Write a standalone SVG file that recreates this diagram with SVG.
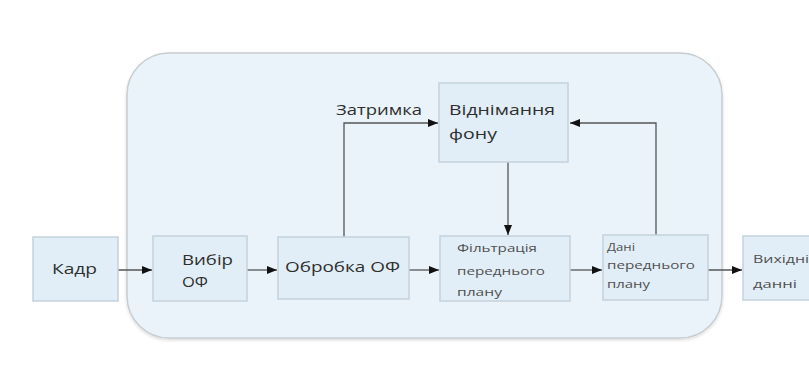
<svg xmlns="http://www.w3.org/2000/svg" width="809" height="374" viewBox="0 0 809 374">
<style>
.box{fill:#e2eef7;stroke:#c4d2dc;stroke-width:1.5}
.t{font-family:"Open Sans","Noto Sans","DejaVu Sans",sans-serif;fill:#2e2e2e}
.big{font-size:15px}
.sm{font-size:11px;fill:#505050}
.ln{fill:none;stroke:#555;stroke-width:1.3}
</style>
<defs>
<marker id="ah" viewBox="0 0 10 8" refX="10" refY="4" markerWidth="10" markerHeight="8" markerUnits="userSpaceOnUse" orient="auto">
<path d="M0,0 L10,4 L0,8 Z" fill="#111"/>
</marker>
<filter id="sh" x="-5%" y="-5%" width="110%" height="115%">
<feDropShadow dx="0" dy="1.5" stdDeviation="1.5" flood-color="#000" flood-opacity="0.15"/>
</filter>
</defs>
<rect width="809" height="374" fill="#fff"/>
<g id="container">
<rect x="127" y="53" width="595" height="285" rx="42" ry="42" fill="#e9f3f9" stroke="#c8cdd1" stroke-width="1.5" filter="url(#sh)"/>
</g>
<g id="connectors">
<line class="ln" x1="118" y1="270" x2="152" y2="270" marker-end="url(#ah)"/>
<line class="ln" x1="247" y1="270" x2="277" y2="270" marker-end="url(#ah)"/>
<line class="ln" x1="409" y1="270" x2="439" y2="270" marker-end="url(#ah)"/>
<line class="ln" x1="570" y1="270" x2="602" y2="270" marker-end="url(#ah)"/>
<line class="ln" x1="708" y1="270" x2="742" y2="270" marker-end="url(#ah)"/>
<polyline class="ln" points="344,237 344,123 438,123" marker-end="url(#ah)"/>
<polyline class="ln" points="656,235 656,123 570,123" marker-end="url(#ah)"/>
<line class="ln" x1="508" y1="162" x2="508" y2="235" marker-end="url(#ah)"/>
<text class="t big" x="336" y="115" textLength="86" lengthAdjust="spacingAndGlyphs">Затримка</text>
</g>
<g id="kadr">
<rect class="box" x="33" y="237" width="85" height="64"/>
<text class="t big" x="52" y="274" textLength="45" lengthAdjust="spacingAndGlyphs">Кадр</text>
</g>
<g id="vybir">
<rect class="box" x="153" y="236" width="94" height="65"/>
<text class="t big" x="182" y="265" textLength="51" lengthAdjust="spacingAndGlyphs">Вибір</text>
<text class="t big" x="182" y="287" textLength="26" lengthAdjust="spacingAndGlyphs">ОФ</text>
</g>
<g id="obrobka">
<rect class="box" x="278" y="237" width="131" height="62"/>
<text class="t big" x="285" y="272" textLength="115" lengthAdjust="spacingAndGlyphs">Обробка ОФ</text>
</g>
<g id="vidnimannia">
<rect class="box" x="439" y="83" width="129" height="79"/>
<text class="t big" x="449" y="115" textLength="106" lengthAdjust="spacingAndGlyphs">Віднімання</text>
<text class="t big" x="449" y="139" textLength="48" lengthAdjust="spacingAndGlyphs">фону</text>
</g>
<g id="filtratsiia">
<rect class="box" x="440" y="236" width="130" height="65"/>
<text class="t sm" x="457" y="252" textLength="80" lengthAdjust="spacingAndGlyphs">Фільтрація</text>
<text class="t sm" x="457" y="275" textLength="88" lengthAdjust="spacingAndGlyphs">переднього</text>
<text class="t sm" x="457" y="296" textLength="45" lengthAdjust="spacingAndGlyphs">плану</text>
</g>
<g id="dani">
<rect class="box" x="603" y="235" width="105" height="65"/>
<text class="t sm" x="607" y="251" textLength="28" lengthAdjust="spacingAndGlyphs">Дані</text>
<text class="t sm" x="607" y="269" textLength="88" lengthAdjust="spacingAndGlyphs">переднього</text>
<text class="t sm" x="607" y="288" textLength="43" lengthAdjust="spacingAndGlyphs">плану</text>
</g>
<g id="vykhidni">
<rect class="box" x="743" y="236" width="80" height="64"/>
<text class="t sm" x="753" y="263" textLength="56" lengthAdjust="spacingAndGlyphs">Вихідні</text>
<text class="t sm" x="753" y="288" textLength="44" lengthAdjust="spacingAndGlyphs">данні</text>
</g>
</svg>
